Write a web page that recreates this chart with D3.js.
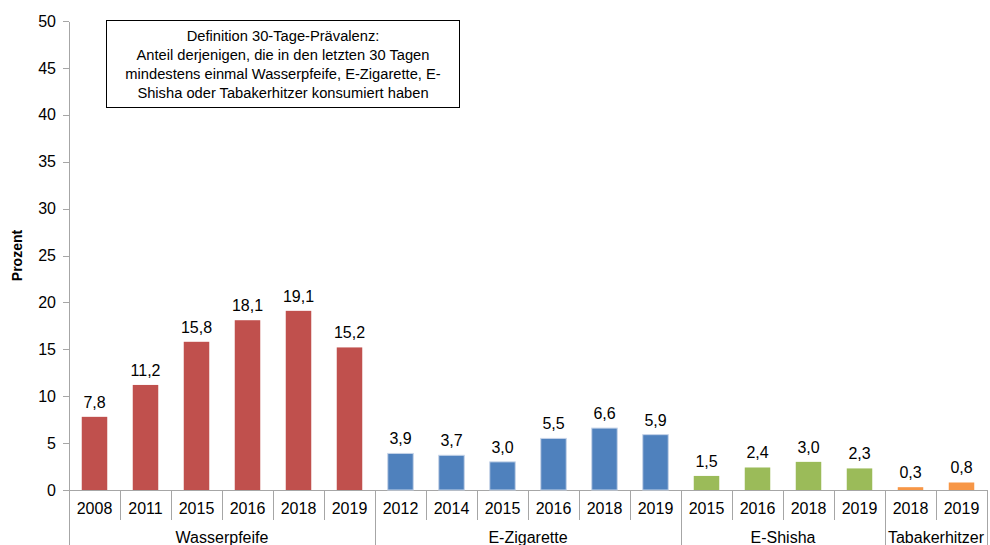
<!DOCTYPE html>
<meta charset="utf-8">
<style>
body { margin: 0; background: #fff; }
svg { font-family: "Liberation Sans", Arial, sans-serif; }
.axis path, .axis line { stroke: #a6a6a6; shape-rendering: crispEdges; }
.axis text { font-size: 16px; fill: #000; }
.sep { stroke: #a6a6a6; shape-rendering: crispEdges; }
.val { font-size: 16px; fill: #000; }
.note { font-size: 14.7px; fill: #000; }
</style>
<body>
<script src="https://d3js.org/d3.v7.min.js"></script>
<script>

var groups = ["Wasserpfeife", "E-Zigarette", "E-Shisha", "Tabakerhitzer"];
var groupColors = ["#c0504d", "#4f81bd", "#9bbb59", "#f79646"];
var years = [
    ["2008", "2011", "2015", "2016", "2018", "2019"],
    ["2012", "2014", "2015", "2016", "2018", "2019"],
    ["2015", "2016", "2018", "2019"],
    ["2018", "2019"]
];
var values = [
    [7.8, 11.2, 15.8, 18.1, 19.1, 15.2],
    [3.9, 3.7, 3.0, 5.5, 6.6, 5.9],
    [1.5, 2.4, 3.0, 2.3],
    [0.3, 0.8]
];
var yTicks = [0, 5, 10, 15, 20, 25, 30, 35, 40, 45, 50];
var noteLines = [
    "Definition 30-Tage-Prävalenz:",
    "Anteil derjenigen, die in den letzten 30 Tagen",
    "mindestens einmal Wasserpfeife, E-Zigarette, E-",
    "Shisha oder Tabakerhitzer konsumiert haben"
];

// flatten into one row per bar
var data = [];
groups.forEach(function(g, gi) {
    years[gi].forEach(function(y, i) {
        data.push({group: g, gi: gi, year: y, value: values[gi][i], idx: data.length});
    });
});

var W = 990, H = 545;
var margin = {top: 21, left: 69, right: 3, bottom: 55};
var width = W - margin.left - margin.right,
    height = H - margin.top - margin.bottom;

var svg = d3.select("body").append("svg")
    .attr("width", W).attr("height", H)
  .append("g")
    .attr("transform", "translate(" + margin.left + "," + margin.top + ")");

var x = d3.scaleBand()
    .domain(data.map(function(d) { return d.idx; }))
    .range([0, width])
    .paddingInner(0.5)
    .paddingOuter(0.25);

var y = d3.scaleLinear()
    .domain([0, 50])
    .range([height, 0]);

var step = x.step();
var x0 = function(i) { return x(i) - x.paddingInner() * step / 2; };

// y axis
svg.append("g")
    .attr("class", "axis")
    .call(d3.axisLeft(y).tickValues(yTicks).tickSize(6).tickPadding(7).tickSizeOuter(0));

// x axis baseline
svg.append("line")
    .attr("class", "sep")
    .attr("x1", 0).attr("x2", width)
    .attr("y1", height).attr("y2", height);

// separators between years
data.forEach(function(d, i) {
    if (i === 0) return;
    var newGroup = data[i - 1].gi !== d.gi;
    svg.append("line")
        .attr("class", "sep")
        .attr("x1", Math.round(x0(d.idx))).attr("x2", Math.round(x0(d.idx)))
        .attr("y1", height).attr("y2", newGroup ? H - margin.top : height + 30);
});
[0, width].forEach(function(px) {
    svg.append("line")
        .attr("class", "sep")
        .attr("x1", px).attr("x2", px)
        .attr("y1", height).attr("y2", H - margin.top);
});

// year labels
svg.selectAll(".yr")
    .data(data)
  .enter().append("text")
    .attr("class", "val")
    .attr("x", function(d) { return x(d.idx) + x.bandwidth() / 2; })
    .attr("y", height + 24)
    .attr("text-anchor", "middle")
    .text(function(d) { return d.year; });

// group labels
groups.forEach(function(g, gi) {
    var items = data.filter(function(d) { return d.gi === gi; });
    var a = x0(items[0].idx), b = x0(items[items.length - 1].idx) + step;
    svg.append("text")
        .attr("class", "val")
        .attr("x", (a + b) / 2)
        .attr("y", height + 53)
        .attr("text-anchor", "middle")
        .text(g);
});

// bars
svg.selectAll(".bar")
    .data(data)
  .enter().append("rect")
    .attr("x", function(d) { return x(d.idx); })
    .attr("width", x.bandwidth())
    .attr("y", function(d) { return y(d.value); })
    .attr("height", function(d) { return height - y(d.value); })
    .attr("fill", function(d) { return groupColors[d.gi]; })
    .attr("stroke", function(d) { return d.gi === 1 ? "#c6d4e8" : "none"; })
    .attr("stroke-width", 1);

// value labels
svg.selectAll(".lbl")
    .data(data)
  .enter().append("text")
    .attr("class", "val")
    .attr("x", function(d) { return x(d.idx) + x.bandwidth() / 2; })
    .attr("y", function(d) { return y(d.value) - 9; })
    .attr("text-anchor", "middle")
    .text(function(d) { return d3.format(".1f")(d.value).replace(".", ","); });

// y title
svg.append("text")
    .attr("transform", "translate(" + (-47) + "," + (height / 2) + ") rotate(-90)")
    .attr("text-anchor", "middle")
    .style("font-size", "14px")
    .style("font-weight", "bold")
    .text("Prozent");

// definition box
svg.append("rect")
    .attr("x", 37.5).attr("y", -0.5)
    .attr("width", 353).attr("height", 87)
    .attr("fill", "#fff")
    .attr("stroke", "#000");

svg.selectAll(".note")
    .data(noteLines)
  .enter().append("text")
    .attr("class", "note")
    .attr("x", 214)
    .attr("y", function(d, i) { return 20 + i * 19; })
    .attr("text-anchor", "middle")
    .text(function(d) { return d; });

</script>
</body>
